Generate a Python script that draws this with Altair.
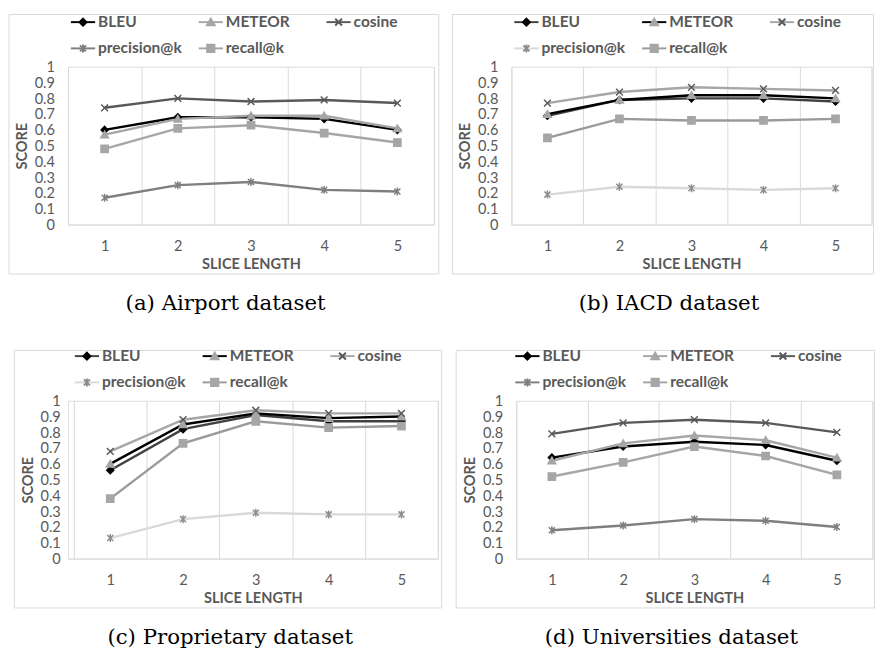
import altair as alt
import pandas as pd

SLICES = [1, 2, 3, 4, 5]
SERIES = ["BLEU", "METEOR", "cosine", "precision@k", "recall@k"]

# (a) Airport dataset
A_BLEU = [0.60, 0.68, 0.68, 0.67, 0.60]
A_METEOR = [0.57, 0.67, 0.69, 0.69, 0.61]
A_COSINE = [0.74, 0.80, 0.78, 0.79, 0.77]
A_PREC = [0.17, 0.25, 0.27, 0.22, 0.21]
A_REC = [0.48, 0.61, 0.63, 0.58, 0.52]

# (b) IACD dataset
B_BLEU = [0.69, 0.79, 0.80, 0.80, 0.78]
B_METEOR = [0.70, 0.79, 0.82, 0.82, 0.80]
B_COSINE = [0.77, 0.84, 0.87, 0.86, 0.85]
B_PREC = [0.19, 0.24, 0.23, 0.22, 0.23]
B_REC = [0.55, 0.67, 0.66, 0.66, 0.67]

# (c) Proprietary dataset
C_BLEU = [0.56, 0.82, 0.91, 0.87, 0.87]
C_METEOR = [0.60, 0.85, 0.92, 0.89, 0.90]
C_COSINE = [0.68, 0.88, 0.94, 0.92, 0.92]
C_PREC = [0.13, 0.25, 0.29, 0.28, 0.28]
C_REC = [0.38, 0.73, 0.87, 0.83, 0.84]

# (d) Universities dataset
D_BLEU = [0.64, 0.71, 0.74, 0.72, 0.62]
D_METEOR = [0.62, 0.73, 0.78, 0.75, 0.64]
D_COSINE = [0.79, 0.86, 0.88, 0.86, 0.80]
D_PREC = [0.18, 0.21, 0.25, 0.24, 0.20]
D_REC = [0.52, 0.61, 0.71, 0.65, 0.53]

Y_TICKS = [0, 0.1, 0.2, 0.3, 0.4, 0.5, 0.6, 0.7, 0.8, 0.9, 1]

# styles
STYLE_1_LINES = ["#000000", "#a6a6a6", "#595959", "#7f7f7f", "#a6a6a6"]
STYLE_1_MARKS = ["#000000", "#a6a6a6", "#595959", "#7f7f7f", "#a6a6a6"]
STYLE_2_LINES = ["#404040", "#000000", "#a6a6a6", "#d9d9d9", "#9a9a9a"]
STYLE_2_MARKS = ["#000000", "#a6a6a6", "#595959", "#8c8c8c", "#a6a6a6"]

MARKER_PATHS = [
    "M0,-0.29L0.29,0L0,0.29L-0.29,0Z",
    "M0,-0.29L0.32,0.26L-0.32,0.26Z",
    "M-0.28,-0.28L0.28,0.28M-0.28,0.28L0.28,-0.28",
    "M-0.25,-0.25L0.25,0.25M-0.25,0.25L0.25,-0.25M0,-0.33L0,0.33",
    "M-0.3,-0.3H0.3V0.3H-0.3Z",
]
# legend cells: invisible move-to extents give every entry the same box, so the
# line legend and the marker legend drawn on top of it stay aligned
LEG_EXTENT = "M-1,-0.70M8.28,0.70"
LEG_MARKERS = [LEG_EXTENT + p for p in MARKER_PATHS]
LEG_LINE = LEG_EXTENT + "M-1,0H1"

FONT = "Lato"
TXT = "#595959"
GRID = "#d9d9d9"
H = 163


def make_df(b, m, c, p, r):
    rows = []
    for name, vals in zip(SERIES, [b, m, c, p, r]):
        for s, v in zip(SLICES, vals):
            rows.append({"slice": s, "score": v, "series": name, "series2": name})
    return pd.DataFrame(rows)


def legend(lx, markers):
    kw = dict(
        orient="none", legendX=lx, legendY=-60, direction="horizontal", columns=3,
        gridAlign="all", columnPadding=8, rowPadding=0.5, padding=0, title=None,
        labelFont=FONT, labelFontSize=16, labelFontWeight="bold", labelColor=TXT,
        symbolSize=625, symbolOpacity=1, symbolStrokeWidth=2,
    )
    if markers:
        kw.update(labelExpr="''", labelOffset=0)
    else:
        kw.update(labelOffset=2, symbolType=LEG_LINE)
    return alt.Legend(**kw)


def panel(df, W, lines_c, marks_c, caption, lx, frame, lpad=0.0, ylabpad=14):
    x = alt.X("slice:O", title="SLICE LENGTH",
              scale=alt.Scale(type="band", paddingInner=0, paddingOuter=lpad, align=1),
              axis=alt.Axis(labelAngle=0, tickBand="extent", ticks=False, tickSize=0,
                            grid=True, gridColor=GRID, gridWidth=1,
                            domainColor=GRID, domainWidth=1,
                            labelFont=FONT, labelFontSize=15, labelColor=TXT, labelPadding=15,
                            titleFont=FONT, titleFontSize=15, titleFontWeight="bold",
                            titleColor=TXT, titlePadding=3))
    y = alt.Y("score:Q", title="SCORE",
              scale=alt.Scale(domain=[0, 1], nice=False, zero=True),
              axis=alt.Axis(values=Y_TICKS, format=".1~f", grid=False, domain=False,
                            ticks=False, tickSize=0,
                            labelFont=FONT, labelFontSize=15, labelColor=TXT,
                            labelPadding=ylabpad,
                            titleFont=FONT, titleFontSize=15, titleFontWeight="bold",
                            titleColor=TXT, titlePadding=5))
    base = alt.Chart(df).encode(x=x, y=y)
    lines = base.mark_line(strokeWidth=2.5).encode(
        color=alt.Color("series2:N", scale=alt.Scale(domain=SERIES, range=lines_c),
                        legend=legend(lx, False)))
    marks = base.mark_point(size=625, strokeWidth=1.5, opacity=1).encode(
        fill=alt.Fill("series:N", scale=alt.Scale(domain=SERIES, range=marks_c), legend=None),
        stroke=alt.Stroke("series:N", scale=alt.Scale(domain=SERIES, range=marks_c), legend=None),
        shape=alt.Shape("series:N", scale=alt.Scale(domain=SERIES, range=MARKER_PATHS), legend=None),
    )
    mleg = legend(lx, True)
    leg = alt.Chart(df).transform_filter("false").mark_point(
        size=625, strokeWidth=2, opacity=1).encode(
        fill=alt.Fill("series:N", scale=alt.Scale(domain=SERIES, range=marks_c), legend=mleg),
        stroke=alt.Stroke("series:N", scale=alt.Scale(domain=SERIES, range=marks_c), legend=mleg),
        shape=alt.Shape("series:N", scale=alt.Scale(domain=SERIES, range=LEG_MARKERS), legend=mleg),
    )
    one = pd.DataFrame({"k": [0]})
    fx1, fy1, fx2, fy2 = frame
    box = alt.Chart(one).mark_rect(fill="white", fillOpacity=0, stroke=GRID, strokeWidth=1).encode(
        x=alt.value(fx1), x2=alt.value(fx2), y=alt.value(fy1), y2=alt.value(fy2))
    return alt.layer(box, lines, marks, leg).properties(
        width=W, height=H,
        title=alt.TitleParams(caption, orient="bottom", anchor="middle", frame="bounds",
                              font="DejaVu Serif", fontSize=22, fontWeight="normal",
                              color="#000000", offset=20),
    ).resolve_scale(fill="independent", stroke="independent", shape="independent")


pa = panel(make_df(A_BLEU, A_METEOR, A_COSINE, A_PREC, A_REC), 378,
           STYLE_1_LINES, STYLE_1_MARKS, "(a) Airport dataset", 2, (-61, -54, 383, 214))
pb = panel(make_df(B_BLEU, B_METEOR, B_COSINE, B_PREC, B_REC), 372,
           STYLE_2_LINES, STYLE_2_MARKS, "(b) IACD dataset", 2, (-61, -54, 374, 214))
pc = panel(make_df(C_BLEU, C_METEOR, C_COSINE, C_PREC, C_REC), 382,
           STYLE_2_LINES, STYLE_2_MARKS, "(c) Proprietary dataset", 6, (-55.5, -52, 386, 214),
           lpad=0.04, ylabpad=8)
pd_ = panel(make_df(D_BLEU, D_METEOR, D_COSINE, D_PREC, D_REC), 368,
            STYLE_1_LINES, STYLE_1_MARKS, "(d) Universities dataset", -2, (-62, -52, 370, 214))

RES = dict(color="independent", fill="independent", stroke="independent", shape="independent")
row1 = alt.hconcat(pa, pb, spacing=8).resolve_scale(**RES)
row2 = alt.hconcat(pc, pd_, spacing=8).resolve_scale(**RES)
chart = alt.vconcat(row1, row2, spacing=28).resolve_scale(**RES).configure_view(
    stroke=None).configure(background="white",
                           padding={"top": -11, "left": 0, "right": 0, "bottom": 0})

chart.save("out.html", embed_options={"renderer": "svg", "actions": False})
